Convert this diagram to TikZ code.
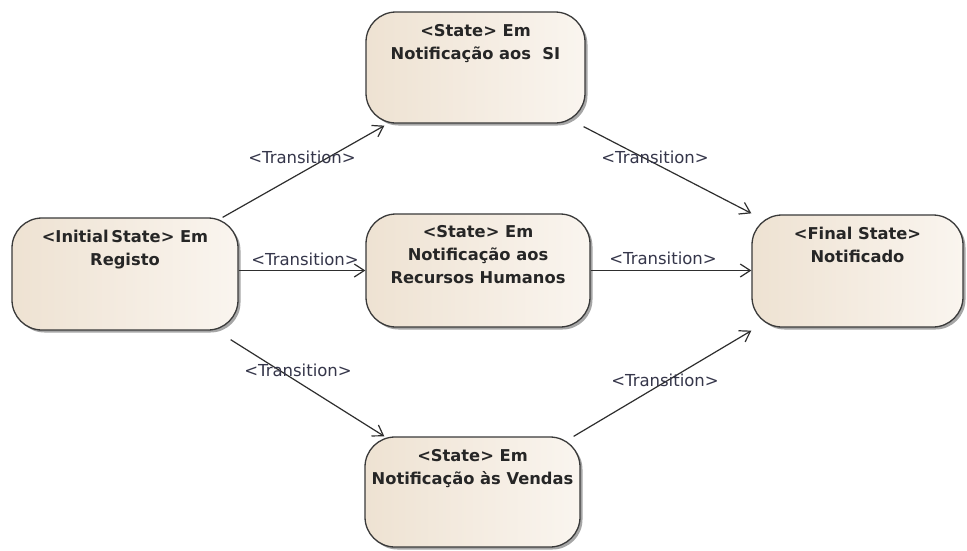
\documentclass[tikz,border=0pt]{standalone}
\usepackage{fontspec}
\setmainfont{DejaVu Sans}
\usetikzlibrary{arrows.meta,shadows,calc}
\definecolor{boxL}{HTML}{EEE2D2}
\definecolor{boxR}{HTML}{FAF5EF}
\definecolor{edgeC}{HTML}{3A3A3A}
\definecolor{lineC}{HTML}{2E2E2E}
\definecolor{labelC}{HTML}{35364A}
\tikzset{
  statebox/.style={draw=edgeC, line width=1.3pt, rounded corners=30pt,
    left color=boxL, right color=boxR,
    drop shadow={shadow xshift=2.5pt, shadow yshift=-2.5pt, fill=black, opacity=0.35},
    inner sep=0pt},
  statetext/.style={font=\bfseries\fontsize{16.3}{23}\selectfont, align=center, text=black!85, inner sep=0pt},
  trans/.style={draw=lineC, line width=1.2pt,
    -{Straight Barb[length=10pt, width=13pt, line width=1.2pt]}},
  tlabel/.style={font=\fontsize{16.5}{19}\selectfont, text=labelC, inner sep=1pt}
}
\begin{document}
\begin{tikzpicture}[x=1pt, y=-1pt]
  \useasboundingbox (0,0) rectangle (967,550);
  \fill[white] (0,0) rectangle (967,550);

  % states
  \node[statebox, minimum width=219pt, minimum height=111pt,
    label={[statetext, anchor=north, yshift=-13pt]north:{<State> Em\\Notificação aos~ SI}}]
    (si) at (475.5,67.5) {};
  \node[statebox, minimum width=226pt, minimum height=112pt,
    label={[statetext, anchor=north, yshift=-13pt]north:{<Initial\,State> Em\\Registo}}]
    (init) at (125,274) {};
  \node[statebox, minimum width=224pt, minimum height=113pt,
    label={[statetext, anchor=north, yshift=-12pt]north:{<State> Em\\Notificação aos\\Recursos Humanos}}]
    (rh) at (478,270.5) {};
  \node[statebox, minimum width=211pt, minimum height=112pt,
    label={[statetext, anchor=north, yshift=-13pt]north:{<Final State>\\Notificado}}]
    (fin) at (857.5,271) {};
  \node[statebox, minimum width=215pt, minimum height=110pt,
    label={[statetext, anchor=north, yshift=-13pt]north:{<State> Em\\Notificação às Vendas}}]
    (ven) at (472.5,492) {};

  % transitions
  \draw[trans] ($(init.north east)+(-16,0)$) -- ($(si.south west)+(19,2)$);
  \draw[trans] ($(si.south east)+(-2,3)$) -- ($(fin.north west)+(0,-1)$);
  \draw[trans] (init.east |- rh.west) -- (rh.west);
  \draw[trans] (rh.east) -- (rh.east -| fin.west);
  \draw[trans] ($(init.south east)+(-8,9)$) -- ($(ven.north west)+(20,0)$);
  \draw[trans] ($(ven.north east)+(-7,0)$) -- ($(fin.south west)+(0,3)$);

  % transition labels
  \node[tlabel] (l1) at (302,157) {<Transition>};
  \node[tlabel] (l2) at (655,157) {<Transition>};
  \node[tlabel] (l3) at (305,259) {<Transition>};
  \node[tlabel] (l4) at (663,258) {<Transition>};
  \node[tlabel] (l5) at (298,370) {<Transition>};
  \node[tlabel] (l6) at (665,380) {<Transition>};
\end{tikzpicture}
\end{document}
